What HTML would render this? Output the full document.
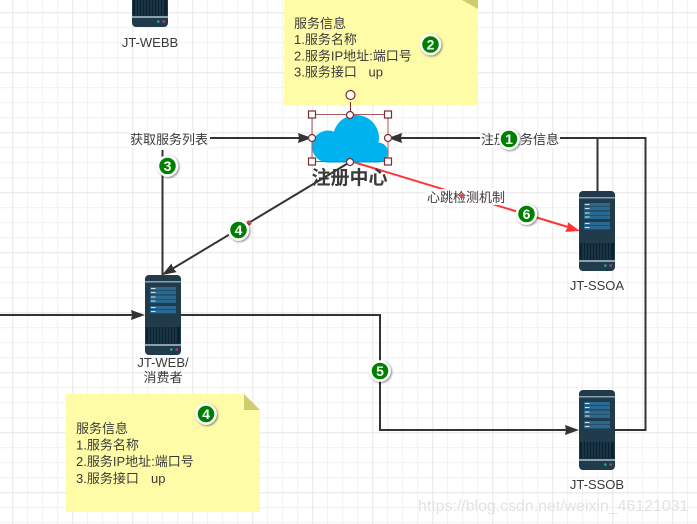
<!DOCTYPE html>
<html><head><meta charset="utf-8"><style>
html,body{margin:0;padding:0;background:#fff;width:697px;height:524px;overflow:hidden}
svg{display:block}
text{font-family:"Liberation Sans","Noto Sans CJK SC",sans-serif;fill:#3a3a3a}
.n{font-size:13px}
.l{font-size:13px}
.b{font-size:14px;font-weight:bold;fill:#fff;text-anchor:middle}
</style></head><body>
<svg width="697" height="524" viewBox="0 0 697 524" xmlns="http://www.w3.org/2000/svg">
<defs>
<pattern id="g" x="12.5" y="12.5" width="15" height="15" patternUnits="userSpaceOnUse"><path d="M0 0H15M0 0V15" stroke="#e9e9e9" stroke-width="1.200" fill="none"/></pattern>
<pattern id="G" x="12.5" y="12.5" width="60" height="60" patternUnits="userSpaceOnUse"><path d="M0 0H60M0 0V60" stroke="#dedede" stroke-width="1.400" fill="none"/></pattern>
<filter id="s" x="-40%" y="-40%" width="180%" height="180%"><feDropShadow dx="1" dy="1" stdDeviation="1" flood-color="#000" flood-opacity=".5"/></filter>
<g id="srv">
<rect width="36" height="80" rx="4" fill="#1f3b4c"/>
<rect y="6" width="36" height="1.500" fill="#8aa2ae"/>
<rect y="69" width="36" height="2" fill="#8aa2ae"/>
<rect x="5" y="12" width="26" height="3.400" fill="#2a6a92"/><rect x="5" y="16" width="26" height="3.400" fill="#2a6a92"/>
<rect x="5" y="20.500" width="26" height="3.400" fill="#2a6a92"/><rect x="5" y="24.500" width="26" height="3.400" fill="#2a6a92"/>
<rect x="5" y="31" width="26" height="3.400" fill="#2a6a92"/><rect x="5" y="35" width="26" height="3.400" fill="#2a6a92"/>
<g fill="#d5e2ea"><rect x="6" y="13" width="4.500" height="1"/><rect x="6" y="17" width="4.500" height="1"/>
<rect x="6" y="21.500" width="4.500" height="1"/><rect x="6" y="25.500" width="4.500" height="1"/>
<rect x="6" y="32" width="4.500" height="1"/><rect x="6" y="36" width="4.500" height="1"/></g>
<rect x="1" y="52" width="34" height="16.500" fill="#0c2130"/>
<path d="M4 52v16M7 52v16M10 52v16M13 52v16M16 52v16M19 52v16M22 52v16M25 52v16M28 52v16M31 52v16" stroke="#29475a" stroke-width="1"/>
<circle cx="26.300" cy="74.500" r="1.300" fill="#2faa78"/><circle cx="31.700" cy="74.500" r="1.300" fill="#c2405c"/>
</g>
<path id="ar" d="M0 0L-14 -5L-13 0L-14 5Z"/>
</defs>
<rect width="697" height="524" fill="#fff"/>
<rect width="697" height="524" fill="url(#g)"/>
<rect width="697" height="524" fill="url(#G)"/>

<!-- notes -->
<rect x="284" y="0" width="194" height="105.500" fill="#fffca8"/>
<path d="M462 0L478 0L478 9Z" fill="#cdcd70"/>
<path d="M66 394H244L260 410V512H66Z" fill="#fffca8"/>
<path d="M244 394L260 410H244Z" fill="#cdcd70"/>

<!-- connectors -->
<g fill="none" stroke="#333" stroke-width="2">
<path d="M0 315H133"/>
<path d="M181 315H380V430H567"/>
<path d="M615 430H645.500V138H401"/>
<path d="M597.500 191V138"/>
<path d="M162.500 275V150"/>
<path d="M210 138H299"/>
<path d="M350 162L172 269"/>
</g>
<g fill="#333">
<use href="#ar" transform="translate(145,315)"/>
<use href="#ar" transform="translate(579,430)"/>
<use href="#ar" transform="translate(388,138) rotate(180)"/>
<use href="#ar" transform="translate(312,138)"/>
<use href="#ar" transform="translate(162,275) rotate(149)"/>
</g>
<path d="M350 161L568 227" stroke="#ff3333" stroke-width="2" fill="none"/>
<use href="#ar" transform="translate(580,231) rotate(16.500)" fill="#ff3333"/>

<!-- servers -->
<use href="#srv" x="132" y="-53"/>
<use href="#srv" x="145" y="275"/>
<use href="#srv" x="579" y="191"/>
<use href="#srv" x="579" y="390"/>

<!-- cloud -->
<g fill="#00b3ee">
<circle cx="328" cy="146.500" r="16"/>
<circle cx="356" cy="138" r="23"/>
<circle cx="378" cy="152.500" r="10"/>
<rect x="328" y="145" width="50" height="17.500"/>
</g>

<!-- selection -->
<rect x="312" y="114.500" width="76" height="47" fill="none" stroke="#a85a5f" stroke-width="1"/>
<path d="M350.500 102V114" stroke="#8a2a30" stroke-width="1"/>
<g fill="#fff" stroke="#7d2a30" stroke-width="1.200">
<rect x="308.500" y="111" width="7" height="7"/><rect x="384.500" y="111" width="7" height="7"/>
<rect x="308.500" y="158" width="7" height="7"/><rect x="384.500" y="158" width="7" height="7"/>
<circle cx="350" cy="115" r="3.500"/><circle cx="312" cy="138" r="3.500"/><circle cx="388" cy="138" r="3.500"/><circle cx="350" cy="162" r="3.500"/>
<circle cx="350.500" cy="95" r="4.500"/>
</g>

<!-- labels -->
<rect x="129" y="131" width="81" height="17" fill="#fff" fill-opacity=".9"/>
<text class="l" x="130" y="144">获取服务列表</text>
<rect x="480" y="131" width="80" height="17" fill="#fff" fill-opacity=".9"/>
<text class="l" x="481" y="144">注册服务信息</text>
<rect x="426" y="189" width="79" height="16" fill="#fff" fill-opacity=".9"/>
<text class="l" x="427" y="202">心跳检测机制</text>
<text x="349.500" y="184" text-anchor="middle" style="font-size:19px;font-weight:bold">注册中心</text>
<circle cx="462" cy="196" r="2.500" fill="#d0505a"/>
<circle cx="249" cy="223" r="2.500" fill="#b84a50"/>

<g class="n">
<text class="n" x="294" y="28">服务信息</text>
<text class="n" x="294" y="44">1.服务名称</text>
<text class="n" x="294" y="60.500">2.服务IP地址:端口号</text>
<text class="n" x="294" y="76.500">3.服务接口<tspan x="368.500">up</tspan></text>
<text class="n" x="76" y="433">服务信息</text>
<text class="n" x="76" y="449.500">1.服务名称</text>
<text class="n" x="76" y="466">2.服务IP地址:端口号</text>
<text class="n" x="76" y="483">3.服务接口<tspan x="151">up</tspan></text>
</g>
<g style="font-size:13px" text-anchor="middle">
<text x="150" y="47">JT-WEBB</text>
<text x="163" y="367">JT-WEB/</text>
<text x="163" y="382">消费者</text>
<text x="597" y="290">JT-SSOA</text>
<text x="597" y="489">JT-SSOB</text>
</g>

<!-- badges -->
<g fill="#008000" stroke="#fff" stroke-width="2.500" filter="url(#s)">
<circle cx="509" cy="139" r="9.500"/>
<circle cx="430.500" cy="44.500" r="9.500"/>
<circle cx="167.500" cy="166" r="9.500"/>
<circle cx="238.500" cy="230" r="9.500"/>
<circle cx="206" cy="414" r="9.500"/>
<circle cx="380" cy="371" r="9.500"/>
<circle cx="526.500" cy="214" r="9.500"/>
</g>
<text class="b" x="509" y="144">1</text>
<text class="b" x="430.500" y="49.500">2</text>
<text class="b" x="167.500" y="171">3</text>
<text class="b" x="238.500" y="235">4</text>
<text class="b" x="206" y="419">4</text>
<text class="b" x="380" y="376">5</text>
<text class="b" x="526.500" y="219">6</text>

<text x="418" y="511" style="font-size:15.900px;fill:#dcdcdc;fill-opacity:.8">https://blog.csdn.net/weixin_46121031</text>
</svg>
</body></html>
